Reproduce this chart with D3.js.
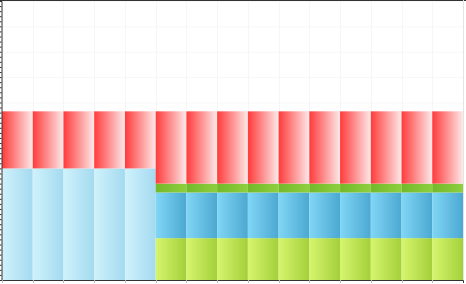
<!DOCTYPE html>
<html>
<head>
<meta charset="utf-8">
<script src="https://cdn.jsdelivr.net/npm/d3@7"></script>
<style>
  html, body { margin: 0; padding: 0; background: #fff; }
  svg { display: block; }
</style>
</head>
<body>
<svg id="svg"></svg>
<script>
const width = 466;
const height = 284;

// data
const categories = ["1", "2", "3", "4", "5", "6", "7", "8", "9", "10", "11", "12", "13", "14", "15"];
const lightBlue = [44, 44, 44, 44, 44, 0, 0, 0, 0, 0, 0, 0, 0, 0, 0];
const lime = [0, 0, 0, 0, 0, 16.5, 16.5, 16.5, 16.5, 16.5, 16.5, 16.5, 16.5, 16.5, 16.5];
const blue = [0, 0, 0, 0, 0, 18, 18, 18, 18, 18, 18, 18, 18, 18, 18];
const green = [0, 0, 0, 0, 0, 3.5, 3.5, 3.5, 3.5, 3.5, 3.5, 3.5, 3.5, 3.5, 3.5];
const red = [22.5, 22.5, 22.5, 22.5, 22.5, 28.5, 28.5, 28.5, 28.5, 28.5, 28.5, 28.5, 28.5, 28.5, 28.5];
const yMax = 110;

const keys = ["lightBlue", "lime", "blue", "green", "red"];
const seriesValues = { lightBlue, lime, blue, green, red };

// gradient stops, left to right
const gradients = {
    lightBlue: ["#cff2fb", "#a4daf0"],
    lime: ["#d6f56e", "#a4d03a"],
    blue: ["#80d6f5", "#4ca8d2"],
    green: ["#72b92b", "#8ecf3e"],
    red: ["#ff3b3b", "#fde9e9"]
};

let svg = d3.select("#svg")
    .attr("width", width)
    .attr("height", height);

const margin = { top: 1, right: 3, bottom: 4, left: 2 };
const chartWidth = width - margin.left - margin.right;
const chartHeight = height - margin.top - margin.bottom;

const defs = svg.append("defs");
for (const k of keys) {
    const g = defs.append("linearGradient")
        .attr("id", "grad-" + k)
        .attr("x1", 0).attr("y1", 0)
        .attr("x2", 1).attr("y2", 0);
    g.append("stop").attr("offset", "0%").attr("stop-color", gradients[k][0]);
    g.append("stop").attr("offset", "100%").attr("stop-color", gradients[k][1]);
}

const chart = svg.append("g")
    .attr("transform", `translate(${margin.left},${margin.top})`);

const xScale = d3.scaleBand()
    .domain(categories)
    .range([0, chartWidth])
    .padding(0);

const yScale = d3.scaleLinear()
    .domain([0, yMax])
    .range([chartHeight, 0]);

// faint grid
chart.append("g")
    .selectAll("line.hgrid")
    .data(d3.range(0, yMax + 1, 10))
    .join("line")
    .attr("x1", 0).attr("x2", chartWidth)
    .attr("y1", d => yScale(d) + 0.5).attr("y2", d => yScale(d) + 0.5)
    .attr("stroke", "#f7f7f7");

chart.append("g")
    .selectAll("line.vgrid")
    .data(categories)
    .join("line")
    .attr("x1", d => Math.round(xScale(d)) + 0.5).attr("x2", d => Math.round(xScale(d)) + 0.5)
    .attr("y1", 0).attr("y2", chartHeight)
    .attr("stroke", "#f6f6f6");

// stacked bars
const table = categories.map((c, i) => {
    const row = { category: c };
    for (const k of keys) row[k] = seriesValues[k][i];
    return row;
});
const stacked = d3.stack().keys(keys)(table);

chart.selectAll(".layer")
    .data(stacked)
    .join("g")
    .attr("class", "layer")
    .attr("fill", d => `url(#grad-${d.key})`)
    .selectAll("rect")
    .data(d => d.filter(p => p[1] - p[0] > 0))
    .join("rect")
    .attr("x", d => xScale(d.data.category))
    .attr("width", xScale.bandwidth())
    .attr("y", d => yScale(d[1]))
    .attr("height", d => yScale(d[0]) - yScale(d[1]));

// frame: top line, right edge
svg.append("line")
    .attr("x1", 0).attr("x2", width)
    .attr("y1", 0.5).attr("y2", 0.5)
    .attr("stroke", "#333");

svg.append("line")
    .attr("x1", margin.left + chartWidth + 0.5).attr("x2", margin.left + chartWidth + 0.5)
    .attr("y1", 0).attr("y2", margin.top + chartHeight)
    .attr("stroke", "#e4e4e4");

// left axis with small ticks
const yAxis = chart.append("g")
    .attr("transform", "translate(-0.5,0)")
    .call(d3.axisLeft(yScale).tickValues(d3.range(0, yMax + 1, 2)).tickSize(2).tickFormat(""));
yAxis.select(".domain").attr("stroke", "#333");
yAxis.selectAll(".tick line").attr("stroke", "#333");

// bottom axis
const xAxis = chart.append("g")
    .attr("transform", `translate(0,${chartHeight})`)
    .call(d3.axisBottom(xScale).tickSize(3).tickFormat(""));
xAxis.select(".domain").attr("stroke", "#333");
xAxis.selectAll(".tick")
    .attr("transform", d => `translate(${Math.round(xScale(d)) + 0.5},0)`);
xAxis.selectAll(".tick line").attr("stroke", "#bbb");
</script>
</body>
</html>
